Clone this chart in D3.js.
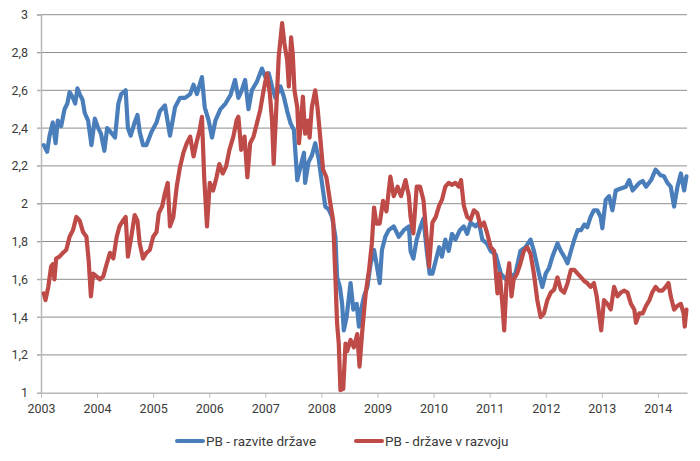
<!DOCTYPE html>
<html>
<head>
<meta charset="utf-8">
<script src="https://cdn.jsdelivr.net/npm/d3@7"></script>
<style>
  html, body { margin: 0; padding: 0; background: #fff; }
  svg { display: block; }
  text { font-family: Roboto, "Open Sans", sans-serif; }
</style>
</head>
<body>
<svg id="chart" width="700" height="461"></svg>
<script>
// ---- Data ----
const years = [2003, 2004, 2005, 2006, 2007, 2008, 2009, 2010, 2011, 2012, 2013, 2014];
const yTicks = [1, 1.2, 1.4, 1.6, 1.8, 2, 2.2, 2.4, 2.6, 2.8, 3];
const seriesNames = ["PB - razvite države", "PB - države v razvoju"];

const devDates = [
  2003.05, 2003.11, 2003.15, 2003.21, 2003.26, 2003.30, 2003.36, 2003.42, 2003.47, 2003.51,
  2003.57, 2003.61, 2003.65, 2003.69, 2003.74, 2003.78, 2003.84, 2003.90, 2003.96, 2004.02,
  2004.07, 2004.13, 2004.18, 2004.24, 2004.32, 2004.38, 2004.43, 2004.51, 2004.55, 2004.60,
  2004.67, 2004.72, 2004.76, 2004.82, 2004.88, 2004.97, 2005.06, 2005.12, 2005.21, 2005.30,
  2005.39, 2005.48, 2005.57, 2005.66, 2005.72, 2005.78, 2005.87, 2005.92, 2005.99, 2006.05,
  2006.11, 2006.20, 2006.29, 2006.38, 2006.46, 2006.52, 2006.58, 2006.64, 2006.70, 2006.76,
  2006.85, 2006.94, 2007.00, 2007.06, 2007.12, 2007.18, 2007.27, 2007.33, 2007.39, 2007.45,
  2007.51, 2007.57, 2007.63, 2007.69, 2007.71, 2007.77, 2007.83, 2007.89, 2007.95, 2008.01,
  2008.07, 2008.13, 2008.19, 2008.25, 2008.28, 2008.33, 2008.37, 2008.40, 2008.45, 2008.52,
  2008.57, 2008.63, 2008.67, 2008.71, 2008.76, 2008.82, 2008.88, 2008.94, 2008.99, 2009.04,
  2009.08, 2009.14, 2009.20, 2009.29, 2009.38, 2009.47, 2009.56, 2009.59, 2009.64, 2009.70,
  2009.77, 2009.82, 2009.88, 2009.93, 2009.98, 2010.04, 2010.10, 2010.15, 2010.21, 2010.27,
  2010.33, 2010.39, 2010.47, 2010.54, 2010.60, 2010.66, 2010.75, 2010.81, 2010.87, 2010.95,
  2011.02, 2011.11, 2011.20, 2011.29, 2011.38, 2011.46, 2011.55, 2011.64, 2011.73, 2011.79,
  2011.88, 2011.94, 2012.00, 2012.06, 2012.12, 2012.21, 2012.27, 2012.33, 2012.39, 2012.45,
  2012.51, 2012.57, 2012.63, 2012.69, 2012.74, 2012.80, 2012.86, 2012.92, 2012.98, 2013.01,
  2013.07, 2013.13, 2013.19, 2013.25, 2013.34, 2013.43, 2013.49, 2013.55, 2013.61, 2013.67,
  2013.73, 2013.79, 2013.88, 2013.96, 2014.05, 2014.11, 2014.17, 2014.23, 2014.29, 2014.35,
  2014.41, 2014.47, 2014.51
];
const devValues = [
  2.31, 2.275, 2.355, 2.43, 2.32, 2.44, 2.41, 2.50, 2.53, 2.59,
  2.56, 2.53, 2.61, 2.58, 2.55, 2.48, 2.44, 2.31, 2.45, 2.40,
  2.37, 2.28, 2.40, 2.38, 2.35, 2.53, 2.58, 2.60, 2.40, 2.36,
  2.43, 2.47, 2.38, 2.31, 2.31, 2.38, 2.43, 2.49, 2.52, 2.36,
  2.51, 2.56, 2.56, 2.58, 2.63, 2.58, 2.67, 2.51, 2.44, 2.35,
  2.44, 2.50, 2.53, 2.575, 2.655, 2.56, 2.60, 2.655, 2.50, 2.60,
  2.645, 2.715, 2.67, 2.69, 2.62, 2.56, 2.62, 2.566, 2.49, 2.425,
  2.39, 2.125, 2.20, 2.27, 2.11, 2.22, 2.255, 2.32, 2.24, 2.11,
  1.985, 1.97, 1.93, 1.825, 1.61, 1.56, 1.47, 1.33, 1.40, 1.58,
  1.44, 1.47, 1.35, 1.44, 1.51, 1.56, 1.685, 1.755, 1.67, 1.58,
  1.755, 1.825, 1.86, 1.88, 1.825, 1.86, 1.88, 1.75, 1.71, 1.81,
  1.88, 1.92, 1.75, 1.63, 1.63, 1.70, 1.77, 1.72, 1.81, 1.75,
  1.84, 1.81, 1.86, 1.88, 1.84, 1.90, 1.88, 1.90, 1.81, 1.79,
  1.75, 1.73, 1.63, 1.60, 1.615, 1.63, 1.75, 1.77, 1.81, 1.75,
  1.63, 1.56, 1.63, 1.66, 1.72, 1.79, 1.75, 1.72, 1.685, 1.75,
  1.81, 1.86, 1.86, 1.89, 1.875, 1.93, 1.965, 1.965, 1.93, 1.87,
  2.02, 2.04, 1.965, 2.07, 2.08, 2.09, 2.125, 2.07, 2.09, 2.11,
  2.12, 2.09, 2.125, 2.18, 2.15, 2.145, 2.11, 2.09, 1.985, 2.09,
  2.16, 2.07, 2.145
];

const emDates = [
  2003.05, 2003.08, 2003.13, 2003.18, 2003.21, 2003.24, 2003.27, 2003.33, 2003.39, 2003.45,
  2003.51, 2003.57, 2003.63, 2003.69, 2003.75, 2003.81, 2003.85, 2003.89, 2003.93, 2003.99,
  2004.05, 2004.11, 2004.17, 2004.23, 2004.29, 2004.35, 2004.40, 2004.46, 2004.51, 2004.55,
  2004.61, 2004.67, 2004.72, 2004.76, 2004.82, 2004.88, 2004.94, 2005.00, 2005.06, 2005.10,
  2005.16, 2005.21, 2005.26, 2005.30, 2005.36, 2005.42, 2005.48, 2005.54, 2005.60, 2005.66,
  2005.72, 2005.77, 2005.83, 2005.87, 2005.91, 2005.96, 2006.01, 2006.07, 2006.13, 2006.18,
  2006.24, 2006.30, 2006.36, 2006.43, 2006.49, 2006.52, 2006.57, 2006.63, 2006.68, 2006.73,
  2006.79, 2006.85, 2006.91, 2006.97, 2007.03, 2007.08, 2007.12, 2007.15, 2007.20, 2007.24,
  2007.30, 2007.34, 2007.39, 2007.42, 2007.46, 2007.49, 2007.52, 2007.57, 2007.60, 2007.64,
  2007.67, 2007.71, 2007.76, 2007.79, 2007.83, 2007.89, 2007.93, 2007.98, 2008.03, 2008.09,
  2008.15, 2008.21, 2008.25, 2008.28, 2008.31, 2008.34, 2008.39, 2008.43, 2008.46, 2008.52,
  2008.58, 2008.64, 2008.68, 2008.73, 2008.79, 2008.85, 2008.90, 2008.94, 2008.98, 2009.04,
  2009.10, 2009.16, 2009.23, 2009.29, 2009.36, 2009.42, 2009.50, 2009.56, 2009.59, 2009.64,
  2009.70, 2009.76, 2009.82, 2009.88, 2009.92, 2009.98, 2010.04, 2010.10, 2010.15, 2010.21,
  2010.27, 2010.33, 2010.39, 2010.45, 2010.49, 2010.54, 2010.60, 2010.66, 2010.72, 2010.78,
  2010.84, 2010.90, 2010.96, 2011.02, 2011.08, 2011.14, 2011.18, 2011.23, 2011.26, 2011.30,
  2011.35, 2011.39, 2011.43, 2011.49, 2011.55, 2011.61, 2011.67, 2011.73, 2011.79, 2011.85,
  2011.91, 2011.97, 2012.03, 2012.09, 2012.15, 2012.21, 2012.27, 2012.33, 2012.39, 2012.45,
  2012.51, 2012.57, 2012.63, 2012.69, 2012.74, 2012.80, 2012.86, 2012.91, 2012.95, 2012.99,
  2013.04, 2013.10, 2013.16, 2013.22, 2013.28, 2013.34, 2013.40, 2013.46, 2013.52, 2013.58,
  2013.61, 2013.67, 2013.73, 2013.79, 2013.85, 2013.90, 2013.96, 2014.02, 2014.08, 2014.14,
  2014.19, 2014.23, 2014.29, 2014.35, 2014.41, 2014.46, 2014.48, 2014.51
];
const emValues = [
  1.526, 1.49, 1.56, 1.667, 1.68, 1.60, 1.71, 1.72, 1.74, 1.755,
  1.825, 1.86, 1.93, 1.91, 1.85, 1.825, 1.70, 1.51, 1.63, 1.615,
  1.60, 1.615, 1.68, 1.74, 1.71, 1.825, 1.88, 1.91, 1.93, 1.72,
  1.825, 1.94, 1.91, 1.79, 1.71, 1.74, 1.755, 1.825, 1.85, 1.95,
  1.985, 2.055, 2.11, 1.88, 1.93, 2.09, 2.196, 2.27, 2.32, 2.355,
  2.25, 2.32, 2.39, 2.46, 2.14, 1.88, 2.11, 2.07, 2.14, 2.21,
  2.16, 2.196, 2.285, 2.355, 2.443, 2.46, 2.285, 2.355, 2.14, 2.32,
  2.355, 2.425, 2.496, 2.60, 2.69, 2.585, 2.44, 2.21, 2.53, 2.78,
  2.955, 2.85, 2.76, 2.62, 2.88, 2.79, 2.60, 2.51, 2.32, 2.44,
  2.566, 2.37, 2.44, 2.35, 2.51, 2.60, 2.51, 2.35, 2.18, 2.14,
  2.02, 1.91, 1.61, 1.367, 1.26, 1.014, 1.02, 1.26, 1.22, 1.28,
  1.24, 1.31, 1.138, 1.33, 1.526, 1.65, 1.79, 1.98, 1.895, 1.895,
  2.015, 1.96, 2.143, 2.04, 2.09, 2.04, 2.125, 2.04, 1.93, 1.843,
  2.09, 2.09, 2.02, 1.81, 1.667, 1.90, 1.93, 1.99, 2.02, 2.09,
  2.11, 2.10, 2.11, 2.09, 2.125, 1.99, 1.93, 1.915, 1.965, 1.95,
  1.88, 1.90, 1.84, 1.77, 1.75, 1.526, 1.63, 1.46, 1.33, 1.58,
  1.685, 1.51, 1.60, 1.63, 1.685, 1.75, 1.77, 1.735, 1.63, 1.49,
  1.40, 1.42, 1.49, 1.53, 1.545, 1.61, 1.545, 1.53, 1.58, 1.65,
  1.65, 1.63, 1.61, 1.59, 1.58, 1.56, 1.58, 1.51, 1.42, 1.33,
  1.49, 1.47, 1.44, 1.56, 1.51, 1.53, 1.54, 1.53, 1.47, 1.44,
  1.37, 1.42, 1.42, 1.46, 1.49, 1.53, 1.56, 1.54, 1.54, 1.56,
  1.58, 1.51, 1.44, 1.46, 1.47, 1.42, 1.35, 1.44
];

const colors = ["#4a7ebb", "#be4b48"];

// ---- Layout ----
const svg = d3.select("#chart");
const margin = { left: 41, right: 13, top: 14.7, bottom: 68.3 };
const W = 700, H = 461;

const x = d3.scaleLinear()
  .domain([2003, 2014.52])
  .range([margin.left, W - margin.right]);
const y = d3.scaleLinear()
  .domain([1, 3])
  .range([H - margin.bottom, margin.top]);

const fmt = v => d3.format(".1f")(v).replace(/\.0$/, "").replace(".", ",");

// gridlines
svg.append("g")
  .selectAll("line")
  .data(yTicks.filter(d => d > 1))
  .join("line")
  .attr("x1", margin.left - 4)
  .attr("x2", W - margin.right)
  .attr("y1", d => y(d))
  .attr("y2", d => y(d))
  .attr("stroke", "#8e8e8e")
  .attr("stroke-width", 1);

// y axis
const yAxis = d3.axisLeft(y).tickValues(yTicks).tickFormat(fmt).tickSize(4).tickPadding(9);
const gy = svg.append("g").attr("transform", `translate(${margin.left},0)`).call(yAxis);
gy.select(".domain").attr("stroke", "#b8b8b8").attr("stroke-width", 1.5);
gy.selectAll(".tick line").attr("stroke", "#b8b8b8");
gy.selectAll(".tick text").attr("fill", "#3a3a3a").style("font-size", "12.5px")
  .style("font-family", "Roboto, sans-serif");

// x axis
const xAxis = d3.axisBottom(x).tickValues(years).tickFormat(d3.format("d")).tickSize(5).tickSizeOuter(0).tickPadding(6);
const gx = svg.append("g").attr("transform", `translate(0,${H - margin.bottom})`).call(xAxis);
gx.select(".domain").attr("stroke", "#b8b8b8").attr("stroke-width", 1.5);
gx.selectAll(".tick line").attr("stroke", "#b8b8b8");
gx.selectAll(".tick text").attr("fill", "#3a3a3a").style("font-size", "12.5px")
  .style("font-family", "Roboto, sans-serif");

// lines
const line = d3.line().x(d => x(d[0])).y(d => y(d[1])).curve(d3.curveLinear);
const series = [
  d3.zip(devDates, devValues),
  d3.zip(emDates, emValues)
];
svg.append("g")
  .selectAll("path")
  .data(series)
  .join("path")
  .attr("d", line)
  .attr("fill", "none")
  .attr("stroke", (d, i) => colors[i])
  .attr("stroke-width", 4.2)
  .attr("stroke-linejoin", "round")
  .attr("stroke-linecap", "round");

// legend
const legendX = [177, 356];
const legend = svg.append("g").attr("transform", "translate(0,441)");
const items = legend.selectAll("g").data(seriesNames).join("g")
  .attr("transform", (d, i) => `translate(${legendX[i]},0)`);
items.append("line")
  .attr("x1", 0).attr("x2", 26).attr("y1", 0).attr("y2", 0)
  .attr("stroke", (d, i) => colors[i]).attr("stroke-width", 4).attr("stroke-linecap", "round");
items.append("text")
  .attr("x", 29).attr("y", 0).attr("dy", "0.35em")
  .attr("fill", "#3a3a3a").style("font-size", "13.5px")
  .text(d => d);
</script>
</body>
</html>
